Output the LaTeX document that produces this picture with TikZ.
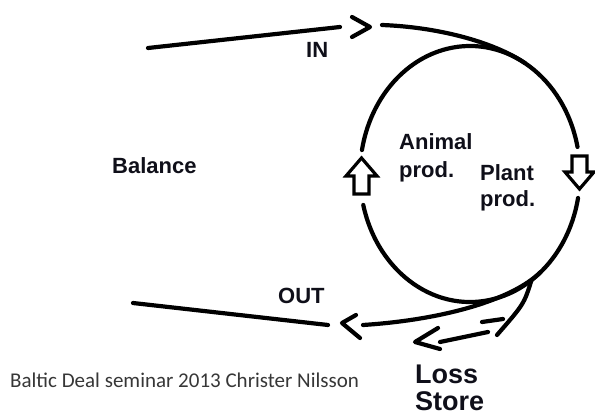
\documentclass[tikz,border=0pt]{standalone}
\usepackage{fontspec}
\setmainfont{Liberation Sans}
\newfontfamily\calib{Carlito}
\definecolor{ink}{RGB}{15,15,25}
\definecolor{foot}{RGB}{55,55,55}
\begin{document}
\begin{tikzpicture}[x=1pt,y=1pt,
  stroke/.style={line width=4.2pt, line cap=round, line join=round, draw=black},
  lbl/.style={font=\bfseries\fontsize{22}{26}\selectfont, text=ink, inner sep=0pt, anchor=base west},
  big/.style={font=\bfseries\fontsize{27}{30}\selectfont, text=ink, inner sep=0pt, anchor=base west},
  hollow/.style={draw=black, line width=3.2pt, fill=white, line join=miter}]
\useasboundingbox (0,0) rectangle (595,416);
\fill[white] (0,0) rectangle (595,416);

\coordinate (C) at (470,242);
% cycle (ellipse with two gaps)
\draw[stroke] (C) ++(12.2:110 and 128) arc[start angle=12.2, end angle=169.2, x radius=110, y radius=128];
\draw[stroke] (C) ++(194:110 and 128) arc[start angle=194, end angle=349.2, x radius=110, y radius=128];

% IN
\coordinate (inA) at (148,368);
\coordinate (inB) at (340,389);
\coordinate (inT) at (370,389);
\coordinate (inU) at (352,399);
\coordinate (inL) at (352,379);
\coordinate (inC) at (382,391);
\coordinate (inJ) at (525,352.9);
\draw[stroke] (inA) -- (inB);
\draw[stroke] (inU) -- (inT) -- (inL);
\draw[stroke] (inC) .. controls (436,389) and (492,375) .. (inJ);

% OUT
\coordinate (outA) at (133,113);
\coordinate (outB) at (328,91);
\coordinate (outT) at (342,93);
\coordinate (outU) at (356,101);
\coordinate (outL) at (360,78);
\coordinate (outC) at (363,91);
\coordinate (outJ) at (540.7,144);
\draw[stroke] (outA) -- (outB);
\draw[stroke] (outU) -- (outT) -- (outL);
\draw[stroke] (outC) .. controls (440,96) and (511,115) .. (outJ);

% Loss / Store
\coordinate (lsJ) at (531.5,135.9);
\coordinate (lsE) at (497,81);
\coordinate (lsA) at (482,94);
\coordinate (lsB) at (503,97);
\coordinate (stA) at (488,84);
\coordinate (stB) at (440,74);
\coordinate (stT) at (415,74);
\coordinate (stU) at (438,88);
\coordinate (stL) at (440,67);
\draw[stroke] (lsJ) .. controls (524,112) .. (lsE);
\draw[stroke] (lsA) -- (lsB);
\draw[stroke] (stA) -- (stB);
\draw[stroke] (stU) -- (stT) -- (stL);

% hollow block arrows
\draw[hollow] (361.5,258) -- (346,240) -- (354,240) -- (354,222) -- (369,222) -- (369,240) -- (377,240) -- cycle;
\draw[hollow] (579.5,227) -- (565,244) -- (572,244) -- (572,260) -- (587,260) -- (587,244) -- (594,244) -- cycle;

% labels
\node[lbl] (in) at (306,358) {IN};
\node[lbl] (bal) at (112,243) {Balance};
\node[lbl] (an1) at (399,266) {Animal};
\node[lbl] (an2) at (399,239) {prod.};
\node[lbl] (pl1) at (480,236) {Plant};
\node[lbl] (pl2) at (480,210) {prod.};
\node[lbl] (out) at (278,113) {OUT};
\node[big] (loss) at (415,33) {Loss};
\node[big] (store) at (415,6) {Store};
\node[font=\calib\fontsize{21}{24}\selectfont, text=foot, anchor=base west, inner sep=0pt] (foot) at (10,29) {Baltic Deal seminar 2013 Christer Nilsson};
\end{tikzpicture}
\end{document}
